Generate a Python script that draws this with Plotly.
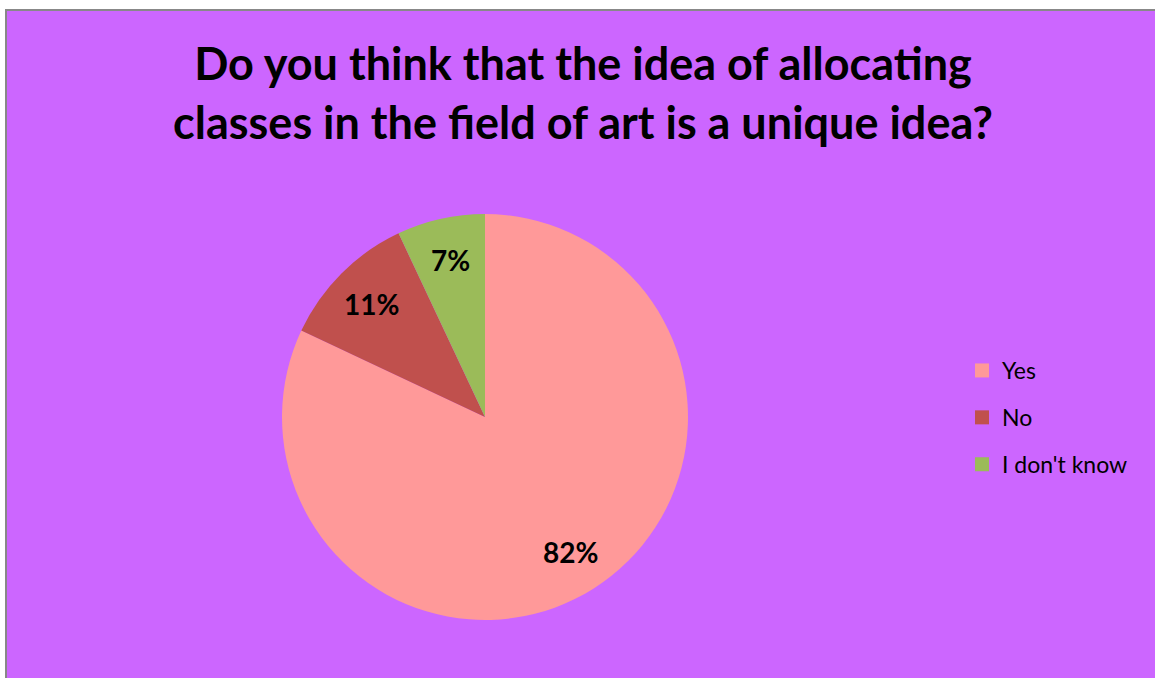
import numpy as np
import plotly.graph_objects as go

labels = ["Yes", "No", "I don't know"]
values = [82, 11, 7]
colors = ["#FF9999", "#C0504D", "#9BBB59"]

title = "Do you think that the idea of allocating<br>classes in the field of art is a unique idea?"
font_family = "Lato, 'Open Sans', sans-serif"

W, H = 1155, 678
# pie box in pixels
px0, px1, py0, py1 = 282, 688, 214, 620

fig = go.Figure()

fig.add_trace(go.Pie(
    labels=labels,
    values=values,
    marker=dict(colors=colors, line=dict(width=0)),
    sort=False,
    direction="clockwise",
    rotation=0,
    textinfo="none",
    showlegend=False,
    domain=dict(x=[px0 / W, px1 / W], y=[1 - py1 / H, 1 - py0 / H]),
))

# percent labels placed along each slice bisector, like the original
vals = np.array(values, dtype=float)
frac = vals / vals.sum()
mid = np.cumsum(frac) - frac / 2
ang = mid * 2 * np.pi
cx, cy = (px0 + px1) / 2, (py0 + py1) / 2
r = (px1 - px0) / 2 * 0.79
annotations = []
for f, a in zip(frac, ang):
    x = cx + r * np.sin(a)
    y = cy - r * np.cos(a)
    annotations.append(dict(
        x=x / W, y=1 - y / H, xref="paper", yref="paper",
        xanchor="center", yanchor="middle",
        text=f"{f:.0%}", showarrow=False,
        font=dict(size=28, color="black", family=font_family, weight="bold"),
    ))

# legend entries as dummy square markers so the gaps can be spaced out
for lab, col in zip(labels, colors):
    fig.add_trace(go.Scatter(
        x=[None], y=[None], mode="markers", name=lab, legendgroup=lab,
        marker=dict(symbol="square", size=14, color=col),
    ))

fig.update_layout(
    width=W, height=H,
    paper_bgcolor="white",
    plot_bgcolor="rgba(0,0,0,0)",
    margin=dict(l=0, r=0, t=0, b=0),
    xaxis=dict(visible=False, domain=[0.99, 1.0]),
    yaxis=dict(visible=False),
    title=dict(
        text=title, x=583 / W, xanchor="center", y=1 - 80 / H, yanchor="middle",
        font=dict(size=45, color="black", family=font_family, weight="bold"),
    ),
    legend=dict(
        x=962 / W, xanchor="left", y=1 - 349 / H, yanchor="top",
        font=dict(size=23, color="black", family=font_family),
        traceorder="grouped", tracegroupgap=14,
        itemwidth=30, bgcolor="rgba(0,0,0,0)",
    ),
    annotations=annotations,
    shapes=[dict(
        type="rect", xref="paper", yref="paper", layer="below",
        x0=6 / W, x1=1.01, y0=-0.01, y1=1 - 10 / H,
        fillcolor="#CC66FF", line=dict(color="#888888", width=2),
    )],
)

fig.write_html("out.html", config={"displayModeBar": False},
               post_script="document.body.style.margin='0';")
